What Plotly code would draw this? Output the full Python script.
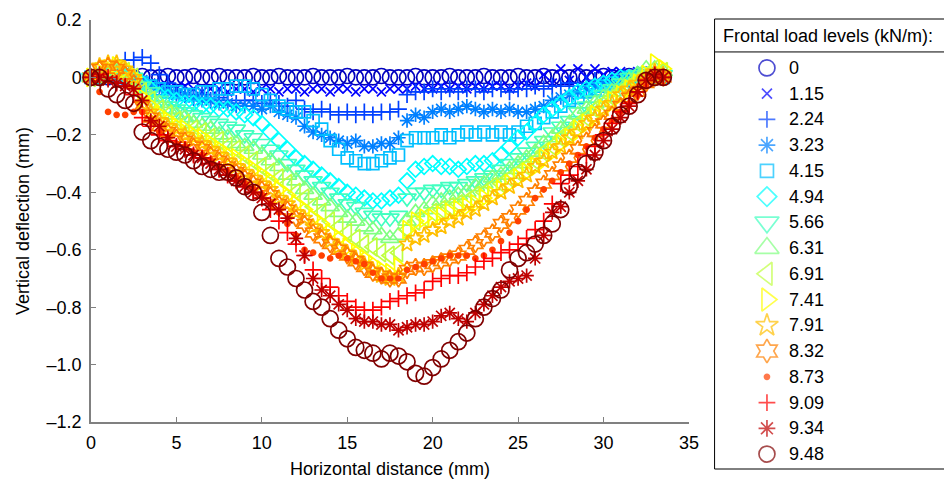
import plotly.graph_objects as go

# ---------------- data ----------------
X_MM = [0.0, 0.5, 1.0, 1.5, 2.0, 2.5, 3.0, 3.5, 4.0, 4.5,
        5.0, 5.5, 6.0, 6.5, 7.0, 7.5, 8.0, 8.5, 9.0, 9.5,
        10.0, 10.5, 11.0, 11.5, 12.0, 12.5, 13.0, 13.5, 14.0, 14.5,
        15.0, 15.5, 16.0, 16.5, 17.0, 17.5, 18.0, 18.5, 19.0, 19.5,
        20.0, 20.5, 21.0, 21.5, 22.0, 22.5, 23.0, 23.5, 24.0, 24.5,
        25.0, 25.5, 26.0, 26.5, 27.0, 27.5, 28.0, 28.5, 29.0, 29.5,
        30.0, 30.5, 31.0, 31.5, 32.0, 32.5, 33.0, 33.5]

LOAD_LEVELS = ["0", "1.15", "2.24", "3.23", "4.15", "4.94", "5.66", "6.31",
               "6.91", "7.41", "7.91", "8.32", "8.73", "9.09", "9.34", "9.48"]

Y_000 = [0.000, 0.005, 0.000, 0.005, 0.000, 0.000, 0.005, 0.000, 0.000, 0.005,
         0.000, 0.000, 0.005, 0.000, 0.000, 0.005, 0.000, 0.000, 0.000, 0.005,
         0.000, 0.000, 0.005, 0.000, 0.000, 0.000, 0.005, 0.000, 0.000, 0.000,
         0.005, 0.000, 0.000, 0.000, 0.005, 0.000, 0.000, 0.000, 0.005, 0.000,
         0.000, 0.000, 0.005, 0.000, 0.000, 0.000, 0.005, 0.000, 0.000, 0.000,
         0.005, 0.000, 0.000, 0.005, 0.000, 0.000, 0.000, 0.005, 0.000, 0.000,
         0.005, 0.000, 0.000, 0.005, 0.000, 0.000, 0.005, 0.000]
Y_115 = [0.00, 0.00, 0.01, 0.01, 0.02, 0.01, -0.01, -0.02, -0.03, -0.03,
         -0.04, -0.03, -0.04, -0.05, -0.04, -0.04, -0.05, -0.04, -0.04, -0.05,
         -0.04, -0.04, -0.05, -0.04, -0.04, -0.05, -0.04, -0.04, -0.05, -0.04,
         -0.04, -0.05, -0.04, -0.04, -0.05, -0.04, -0.04, -0.04, -0.03, -0.04,
         -0.04, -0.03, -0.04, -0.03, -0.04, -0.03, -0.04, -0.03, -0.03, -0.04,
         -0.03, -0.02, -0.03, 0.01, -0.02, 0.03, -0.01, 0.03, 0.00, 0.03,
         0.01, 0.02, 0.02, 0.01, 0.02, 0.01, 0.00, 0.00]
Y_224 = [0.00, 0.00, 0.01, 0.03, 0.06, 0.06, 0.07, 0.05, 0.01, -0.02,
         -0.05, -0.06, -0.07, -0.06, -0.08, -0.07, -0.08, -0.09, -0.08, -0.08,
         -0.09, -0.08, -0.09, -0.10, -0.08, -0.11, -0.12, -0.11, -0.12, -0.13,
         -0.12, -0.13, -0.12, -0.13, -0.12, -0.12, -0.11, -0.06, -0.05, -0.05,
         -0.04, -0.05, -0.04, -0.05, -0.04, -0.04, -0.05, -0.04, -0.04, -0.05,
         -0.04, -0.04, -0.03, -0.04, -0.03, -0.03, -0.02, -0.03, -0.02, -0.01,
         -0.02, -0.01, 0.00, -0.01, 0.01, 0.01, 0.00, 0.00]
Y_323 = [0.00, 0.00, 0.01, 0.02, 0.01, 0.00, -0.01, -0.03, -0.04, -0.05,
         -0.06, -0.06, -0.07, -0.08, -0.08, -0.09, -0.09, -0.10, -0.10, -0.10,
         -0.11, -0.10, -0.12, -0.13, -0.14, -0.17, -0.19, -0.20, -0.21, -0.22,
         -0.23, -0.22, -0.24, -0.24, -0.23, -0.23, -0.21, -0.15, -0.13, -0.14,
         -0.12, -0.11, -0.12, -0.11, -0.10, -0.11, -0.12, -0.11, -0.12, -0.11,
         -0.12, -0.12, -0.11, -0.10, -0.08, -0.07, -0.06, -0.05, -0.04, -0.03,
         -0.02, -0.02, -0.01, 0.00, 0.00, 0.01, 0.00, 0.00]
Y_415 = [0.00, 0.00, 0.01, 0.00, 0.00, -0.01, -0.02, -0.03, -0.04, -0.05,
         -0.05, -0.06, -0.06, -0.05, -0.05, -0.04, -0.04, -0.03, -0.03, -0.04,
         -0.06, -0.08, -0.10, -0.11, -0.12, -0.12, -0.15, -0.18, -0.22, -0.25,
         -0.28, -0.29, -0.30, -0.30, -0.29, -0.28, -0.27, -0.22, -0.21, -0.21,
         -0.21, -0.20, -0.21, -0.20, -0.19, -0.20, -0.19, -0.20, -0.19, -0.20,
         -0.19, -0.17, -0.16, -0.14, -0.12, -0.10, -0.08, -0.07, -0.05, -0.04,
         -0.03, -0.02, -0.01, 0.00, 0.00, 0.00, 0.00, 0.00]
Y_494 = [0.00, 0.00, 0.01, 0.01, 0.00, -0.01, -0.02, -0.04, -0.06, -0.07,
         -0.08, -0.09, -0.09, -0.10, -0.10, -0.11, -0.11, -0.12, -0.13, -0.14,
         -0.16, -0.19, -0.22, -0.25, -0.28, -0.30, -0.32, -0.34, -0.36, -0.38,
         -0.40, -0.41, -0.42, -0.43, -0.43, -0.42, -0.41, -0.36, -0.32, -0.31,
         -0.30, -0.31, -0.31, -0.32, -0.31, -0.30, -0.30, -0.29, -0.27, -0.24,
         -0.21, -0.19, -0.16, -0.13, -0.11, -0.09, -0.07, -0.05, -0.04, -0.03,
         -0.02, -0.01, 0.00, 0.00, 0.01, 0.00, 0.00, 0.00]
Y_566 = [0.00, 0.01, 0.01, 0.02, 0.01, 0.00, -0.03, -0.05, -0.08, -0.10,
         -0.11, -0.12, -0.13, -0.14, -0.15, -0.16, -0.17, -0.18, -0.20, -0.21,
         -0.23, -0.25, -0.27, -0.30, -0.32, -0.34, -0.36, -0.38, -0.40, -0.42,
         -0.44, -0.45, -0.47, -0.48, -0.49, -0.49, -0.48, -0.42, -0.40, -0.40,
         -0.39, -0.39, -0.38, -0.38, -0.37, -0.36, -0.35, -0.34, -0.32, -0.30,
         -0.28, -0.26, -0.24, -0.22, -0.19, -0.17, -0.15, -0.12, -0.10, -0.08,
         -0.06, -0.04, -0.02, 0.00, 0.01, 0.02, 0.02, 0.01]
Y_631 = [0.00, 0.01, 0.02, 0.02, 0.01, 0.00, -0.04, -0.07, -0.09, -0.11,
         -0.13, -0.14, -0.16, -0.17, -0.18, -0.20, -0.21, -0.23, -0.24, -0.25,
         -0.27, -0.29, -0.31, -0.34, -0.36, -0.39, -0.41, -0.43, -0.45, -0.47,
         -0.49, -0.50, -0.52, -0.53, -0.55, -0.56, -0.55, -0.50, -0.47, -0.46,
         -0.44, -0.43, -0.42, -0.41, -0.40, -0.38, -0.37, -0.35, -0.34, -0.32,
         -0.30, -0.28, -0.26, -0.23, -0.21, -0.18, -0.16, -0.13, -0.11, -0.09,
         -0.07, -0.05, -0.03, -0.01, 0.01, 0.03, 0.03, 0.02]
Y_691 = [0.00, 0.01, 0.02, 0.03, 0.02, 0.00, -0.05, -0.08, -0.11, -0.13,
         -0.15, -0.16, -0.18, -0.19, -0.21, -0.22, -0.24, -0.25, -0.27, -0.29,
         -0.31, -0.33, -0.35, -0.37, -0.40, -0.42, -0.45, -0.47, -0.50, -0.52,
         -0.54, -0.56, -0.58, -0.59, -0.61, -0.62, -0.61, -0.53, -0.50, -0.49,
         -0.47, -0.46, -0.45, -0.44, -0.43, -0.41, -0.40, -0.38, -0.37, -0.35,
         -0.33, -0.31, -0.29, -0.26, -0.24, -0.21, -0.19, -0.16, -0.14, -0.11,
         -0.09, -0.07, -0.05, -0.03, -0.01, 0.01, 0.03, 0.02]
Y_741 = [0.00, 0.02, 0.03, 0.04, 0.03, 0.00, -0.07, -0.10, -0.13, -0.15,
         -0.17, -0.18, -0.20, -0.21, -0.23, -0.25, -0.27, -0.28, -0.30, -0.32,
         -0.34, -0.36, -0.39, -0.41, -0.44, -0.46, -0.49, -0.51, -0.54, -0.56,
         -0.59, -0.61, -0.63, -0.65, -0.67, -0.68, -0.66, -0.53, -0.50, -0.49,
         -0.49, -0.48, -0.47, -0.46, -0.45, -0.44, -0.42, -0.41, -0.39, -0.37,
         -0.35, -0.33, -0.31, -0.28, -0.26, -0.23, -0.21, -0.18, -0.16, -0.13,
         -0.11, -0.08, -0.06, -0.04, -0.02, 0.01, 0.05, 0.03]
Y_791 = [0.00, 0.04, 0.05, 0.05, 0.03, 0.00, -0.09, -0.12, -0.15, -0.17,
         -0.19, -0.20, -0.22, -0.23, -0.25, -0.27, -0.29, -0.31, -0.33, -0.35,
         -0.37, -0.39, -0.42, -0.44, -0.47, -0.49, -0.52, -0.54, -0.57, -0.59,
         -0.61, -0.63, -0.65, -0.67, -0.69, -0.70, -0.69, -0.58, -0.56, -0.55,
         -0.53, -0.52, -0.50, -0.49, -0.47, -0.46, -0.44, -0.42, -0.40, -0.38,
         -0.36, -0.34, -0.31, -0.29, -0.26, -0.24, -0.21, -0.19, -0.16, -0.14,
         -0.11, -0.09, -0.06, -0.04, -0.02, 0.00, 0.02, 0.01]
Y_832 = [0.00, 0.03, 0.04, 0.03, 0.01, -0.02, -0.10, -0.14, -0.17, -0.19,
         -0.21, -0.22, -0.24, -0.25, -0.27, -0.29, -0.31, -0.33, -0.35, -0.37,
         -0.39, -0.41, -0.44, -0.46, -0.49, -0.51, -0.54, -0.56, -0.58, -0.60,
         -0.62, -0.64, -0.66, -0.68, -0.69, -0.70, -0.70, -0.67, -0.66, -0.66,
         -0.65, -0.64, -0.63, -0.62, -0.60, -0.58, -0.56, -0.54, -0.51, -0.49,
         -0.46, -0.43, -0.40, -0.37, -0.34, -0.31, -0.28, -0.25, -0.22, -0.19,
         -0.16, -0.13, -0.10, -0.07, -0.05, -0.02, 0.00, 0.00]
Y_873 = [0.00, -0.05, -0.12, -0.13, -0.13, -0.12, -0.12, -0.15, -0.19, -0.21,
         -0.23, -0.24, -0.26, -0.27, -0.29, -0.31, -0.33, -0.35, -0.37, -0.39,
         -0.41, -0.44, -0.47, -0.51, -0.55, -0.60, -0.61, -0.62, -0.63, -0.62,
         -0.63, -0.64, -0.65, -0.68, -0.70, -0.70, -0.70, -0.67, -0.66, -0.65,
         -0.64, -0.63, -0.62, -0.62, -0.62, -0.63, -0.62, -0.60, -0.57, -0.54,
         -0.50, -0.46, -0.42, -0.39, -0.36, -0.33, -0.30, -0.27, -0.24, -0.21,
         -0.18, -0.15, -0.12, -0.09, -0.06, -0.03, 0.00, 0.00]
Y_909 = [0.00, 0.01, 0.00, -0.02, -0.03, -0.06, -0.14, -0.17, -0.20, -0.22,
         -0.24, -0.25, -0.27, -0.28, -0.30, -0.32, -0.34, -0.36, -0.38, -0.40,
         -0.42, -0.46, -0.50, -0.54, -0.58, -0.62, -0.67, -0.70, -0.73, -0.76,
         -0.78, -0.80, -0.81, -0.81, -0.80, -0.78, -0.77, -0.76, -0.75, -0.74,
         -0.71, -0.70, -0.69, -0.69, -0.68, -0.66, -0.64, -0.63, -0.61, -0.60,
         -0.58, -0.56, -0.53, -0.50, -0.44, -0.37, -0.34, -0.31, -0.27, -0.24,
         -0.20, -0.16, -0.12, -0.09, -0.05, -0.01, 0.01, 0.00]
Y_934 = [0.00, 0.00, -0.01, -0.02, -0.03, -0.04, -0.08, -0.15, -0.17, -0.21,
         -0.24, -0.25, -0.27, -0.28, -0.30, -0.32, -0.34, -0.36, -0.38, -0.40,
         -0.42, -0.44, -0.46, -0.49, -0.56, -0.62, -0.70, -0.74, -0.76, -0.79,
         -0.81, -0.84, -0.85, -0.85, -0.86, -0.86, -0.88, -0.87, -0.86, -0.86,
         -0.85, -0.83, -0.82, -0.84, -0.85, -0.82, -0.79, -0.76, -0.73, -0.71,
         -0.70, -0.69, -0.63, -0.55, -0.47, -0.45, -0.40, -0.36, -0.32, -0.27,
         -0.22, -0.18, -0.14, -0.10, -0.05, -0.01, 0.01, 0.00]
Y_948 = [0.00, 0.00, -0.04, -0.06, -0.08, -0.09, -0.19, -0.22, -0.24, -0.25,
         -0.26, -0.27, -0.29, -0.31, -0.32, -0.33, -0.33, -0.35, -0.38, -0.40,
         -0.47, -0.55, -0.63, -0.66, -0.70, -0.74, -0.78, -0.80, -0.84, -0.88,
         -0.91, -0.94, -0.95, -0.96, -0.98, -0.96, -0.97, -0.99, -1.03, -1.04,
         -1.01, -0.98, -0.95, -0.92, -0.89, -0.84, -0.80, -0.77, -0.74, -0.67,
         -0.63, -0.61, -0.58, -0.55, -0.51, -0.46, -0.38, -0.33, -0.30, -0.26,
         -0.22, -0.17, -0.13, -0.10, -0.06, -0.01, 0.00, 0.00]

DEFLECTIONS = [Y_000, Y_115, Y_224, Y_323, Y_415, Y_494, Y_566, Y_631,
               Y_691, Y_741, Y_791, Y_832, Y_873, Y_909, Y_934, Y_948]

X_TICKS = [0, 5, 10, 15, 20, 25, 30, 35]
Y_TICKS = [-1.2, -1.0, -0.8, -0.6, -0.4, -0.2, 0.0, 0.2]
Y_TICK_TEXT = ["\u20131.2", "\u20131.0", "\u20130.8", "\u20130.6",
               "\u20130.4", "\u20130.2", "0", "0.2"]

# ---------------- styles ----------------
COLORS = ["#0000bf", "#0000ff", "#0040ff", "#0080ff", "#00bfff", "#00ffff",
          "#40ffbf", "#80ff80", "#bfff40", "#ffff00", "#ffbf00", "#ff8000",
          "#ff4000", "#ff0000", "#bf0000", "#800000"]
SYMBOLS = ["circle-open", "x-thin-open", "cross-thin-open", "asterisk-open",
           "square-open", "diamond-open", "triangle-down-open", "triangle-up-open",
           "triangle-left-open", "triangle-right-open", "star-open", "hexagram-open",
           "circle", "cross-thin-open", "asterisk-open", "circle-open"]
PLOT_SIZES = [15, 9, 12, 12, 12, 12, 16, 16, 16, 16, 12, 13, 5, 12, 12, 16]
LEG_SIZES = [16, 10, 12, 14, 13, 15, 21, 21, 20, 20, 17, 18, 5, 12, 14, 16]

FONT = "Liberation Sans, Arial, Helvetica, sans-serif"
AXIS_GRAY = "#808080"

fig = go.Figure()

for name, ys, col, sym, sz in zip(LOAD_LEVELS, DEFLECTIONS, COLORS, SYMBOLS, PLOT_SIZES):
    fig.add_trace(go.Scatter(
        x=X_MM, y=ys, mode="markers", name=name, showlegend=False,
        cliponaxis=False, hoverinfo="skip",
        marker=dict(symbol=sym, size=sz, color=col,
                    line=dict(color=col, width=1.7)),
        xaxis="x", yaxis="y"))

# legend symbols, one row per load level (drawn on an auxiliary axis pair)
LEG_ROWS = list(range(len(LOAD_LEVELS)))
fig.add_trace(go.Scatter(
    x=[53] * len(LOAD_LEVELS), y=LEG_ROWS, mode="markers", showlegend=False,
    cliponaxis=False, hoverinfo="skip",
    marker=dict(symbol=SYMBOLS, size=LEG_SIZES, color=COLORS,
                line=dict(color=COLORS, width=1.7)),
    xaxis="x2", yaxis="y2"))

annotations = []
for row, name in zip(LEG_ROWS, LOAD_LEVELS):
    annotations.append(dict(x=73, y=row, xref="x2", yref="y2", text=name,
                            showarrow=False, xanchor="left", yanchor="middle",
                            font=dict(family=FONT, size=18, color="black")))
annotations.append(dict(x=0.7468, y=0.9623, xref="paper", yref="paper",
                        text="Frontal load levels (kN/m):", showarrow=False,
                        xanchor="left", yanchor="middle",
                        font=dict(family=FONT, size=18, color="black")))

shapes = [
    dict(type="rect", xref="paper", yref="paper", x0=0.7397, x1=1.03, y0=0.0, y1=1.0,
         line=dict(color="black", width=1), fillcolor="rgba(0,0,0,0)", layer="below"),
    dict(type="line", xref="paper", yref="paper", x0=0.7397, x1=1.03, y0=0.9268, y1=0.9268,
         line=dict(color="black", width=1)),
]

fig.update_layout(
    width=944, height=479,
    margin=dict(l=91, r=0, t=19, b=9),
    paper_bgcolor="white", plot_bgcolor="white",
    font=dict(family=FONT, size=18, color="black"),
    showlegend=False,
    annotations=annotations,
    shapes=shapes,
    xaxis=dict(domain=[0, 0.70926], range=[0, 35], anchor="y",
               tickmode="array", tickvals=X_TICKS, ticktext=[str(v) for v in X_TICKS],
               ticks="inside", ticklen=5, tickwidth=1.2, tickcolor=AXIS_GRAY,
               showline=True, linecolor=AXIS_GRAY, linewidth=1.5,
               showgrid=False, zeroline=False,
               tickfont=dict(family=FONT, size=18, color="black"),
               ticklabelstandoff=4,
               title=dict(text="Horizontal distance (mm)", standoff=10,
                          font=dict(family=FONT, size=18, color="black"))),
    yaxis=dict(domain=[0.10421, 0.99778], range=[-1.2, 0.2], anchor="x",
               tickmode="array", tickvals=Y_TICKS, ticktext=Y_TICK_TEXT,
               ticks="inside", ticklen=5, tickwidth=1.2, tickcolor=AXIS_GRAY,
               showline=True, linecolor=AXIS_GRAY, linewidth=1.5,
               showgrid=False, zeroline=False,
               tickfont=dict(family=FONT, size=18, color="black"),
               ticklabelstandoff=4,
               title=dict(text="Vertical deflection (mm)", standoff=12,
                          font=dict(family=FONT, size=18, color="black"))),
    xaxis2=dict(domain=[0.7397, 1.0], range=[0, 222], anchor="y2",
                visible=False, fixedrange=True),
    yaxis2=dict(domain=[0.0, 1.0], range=[15.581, -1.899], anchor="x2",
                visible=False, fixedrange=True),
)

fig.write_html("out.html")
